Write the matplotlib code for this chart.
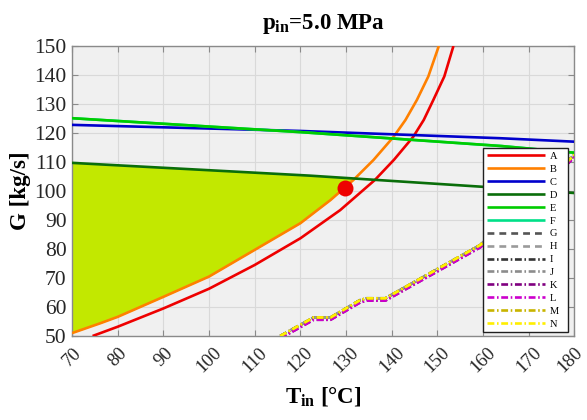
import matplotlib
matplotlib.use("Agg")
import matplotlib.pyplot as plt
import matplotlib.transforms as mtransforms
import numpy as np

plt.rcParams["font.family"] = ["Liberation Serif", "DejaVu Serif"]
plt.rcParams["mathtext.fontset"] = "custom"
plt.rcParams["mathtext.rm"] = "Liberation Serif"
plt.rcParams["mathtext.bf"] = "Liberation Serif:bold"
plt.rcParams["mathtext.default"] = "bf"

# ---- curve data: inlet temperature T_in [°C] vs mass flow G [kg/s] ----
T_A = [74.5, 80, 90, 100, 110, 120, 128.7, 136.3, 140.5, 144.7, 147.0, 149.1, 151.5, 153.5]
G_A = [50.0, 53.2, 59.5, 66.3, 74.5, 83.7, 93.4, 103.8, 110.8, 118.7, 124.5, 131.4, 139.5, 150.0]

T_B = [70, 76.2, 80, 90, 100, 110, 120, 126.6, 131.6, 136, 140.4, 143, 145.5, 148, 150.3]
G_B = [51.0, 54.4, 56.6, 63.5, 70.5, 79.7, 88.9, 96.9, 103.8, 110.7, 118.7, 124.5, 131.4, 139.5, 150.0]

T_C = [70, 120, 163.7, 180]
G_C = [122.8, 120.7, 118.2, 117.0]

T_D = [70, 122, 159.4, 180]
G_D = [109.7, 105.3, 101.5, 99.3]

T_E = [70, 120, 164, 180]
G_E = [125.1, 120.3, 115.5, 113.2]

T_F = T_E
G_F = G_E

T_stair = [115.6, 122.9, 126.6, 133.1, 134.5, 138.6, 159.4, 180]
G_stair = [50.0, 56.4, 56.4, 62.4, 63.0, 63.0, 81.4, 112.5]
G_stair_low = [49.2, 55.6, 55.6, 61.6, 62.2, 62.2, 80.6, 111.7]

# operating point
T_op = [129.7]
G_op = [101.0]

labels = list("ABCDEFGHIJKLMN")
x_ticks = [70, 80, 90, 100, 110, 120, 130, 140, 150, 160, 170, 180]
y_ticks = [50, 60, 70, 80, 90, 100, 110, 120, 130, 140, 150]

fig = plt.figure(figsize=(5.87, 4.2), dpi=100)
ax = fig.add_axes([0.1227, 0.2, 0.8560, 0.6905])
ax.set_facecolor("#f0f0f0")

# feasible region between curve B (below) and curve D (above)
tt = np.linspace(70, 180, 2201)
gb = np.interp(tt, T_B, G_B, right=1e3)
gd = np.interp(tt, T_D, G_D)
ax.fill_between(tt, gb, gd, where=gb <= gd, interpolate=True,
                color="#c2e800", lw=0, zorder=1)

lw = 1.9
dash = (0, (2.6, 1.9))
dashdot = (0, (2.6, 1.0, 0.6, 1.0))

series = {
    "A": (T_A, G_A, "#ee0000", "-"),
    "B": (T_B, G_B, "#ff8000", "-"),
    "C": (T_C, G_C, "#0000cc", "-"),
    "D": (T_D, G_D, "#0a6e0a", "-"),
    "E": (T_E, G_E, "#00cc00", "-"),
    "F": (T_F, G_F, "#00e088", "-"),
    "G": (T_stair, G_stair, "#555555", dash),
    "H": (T_stair, G_stair, "#9a9a9a", dash),
    "I": (T_stair, G_stair, "#333333", dashdot),
    "J": (T_stair, G_stair, "#8c8c8c", dashdot),
    "K": (T_stair, G_stair_low, "#800080", dashdot),
    "L": (T_stair, G_stair_low, "#cc00cc", dashdot),
    "M": (T_stair, G_stair, "#c8b400", dashdot),
    "N": (T_stair, G_stair, "#ffee00", dashdot),
}
# F sits beneath E, so it is drawn first
draw_order = ["A", "B", "C", "D", "F", "E", "G", "H", "I", "J", "K", "L", "M", "N"]
handles = {}
for k, lab in enumerate(draw_order):
    t, g, c, ls = series[lab]
    h, = ax.plot(t, g, color=c, ls=ls, lw=lw, zorder=3 + k * 0.01,
                 solid_capstyle="butt", dash_capstyle="butt")
    handles[lab] = h

ax.plot(T_op, G_op, "o", color="#ee0000", markersize=11.5,
        markeredgewidth=0, zorder=5)

ax.set_xlim(70, 180)
ax.set_ylim(50, 150)
ax.set_xticks(x_ticks)
ax.set_yticks(y_ticks)
ax.grid(True, color="#d9d9d9", lw=0.8, zorder=0)
ax.set_axisbelow(True)
for s in ax.spines.values():
    s.set_color("#8a8a8a")
    s.set_linewidth(1.0)
ax.tick_params(direction="in", top=True, right=True, length=4, width=0.8,
               color="#8a8a8a", labelcolor="#262626")
ax.tick_params(axis="x", pad=6, labelsize=13.5)
ax.tick_params(axis="y", pad=4, labelsize=15.5)
xlabels = ax.get_xticklabels()
plt.setp(xlabels, rotation=45, ha="center", va="top")
# nudge the last label so it stays inside the figure
shift = mtransforms.ScaledTranslation(-4 / 100, 0, fig.dpi_scale_trans)
xlabels[-1].set_transform(xlabels[-1].get_transform() + shift)

ax.set_xlabel(r"$T_{in}$ [°C]", fontsize=16.5, fontweight="bold", labelpad=6)
ax.set_ylabel("G [kg/s]", fontsize=16.5, fontweight="bold", labelpad=2)
ax.set_title(r"$p_{in}$=5.0 MPa", fontsize=16.5, fontweight="bold", pad=12)

leg = ax.legend([handles[l] for l in labels], [l + "  " for l in labels],
                loc="lower right", bbox_to_anchor=(0.988, 0.0128),
                fontsize=7.5, handlelength=5.6, handletextpad=0.5,
                labelspacing=0.345, borderpad=0.35, borderaxespad=0,
                fancybox=False, framealpha=1, edgecolor="#202020")
leg.get_frame().set_linewidth(1.0)
leg.set_zorder(10)

fig.savefig("out.png", dpi=100)
